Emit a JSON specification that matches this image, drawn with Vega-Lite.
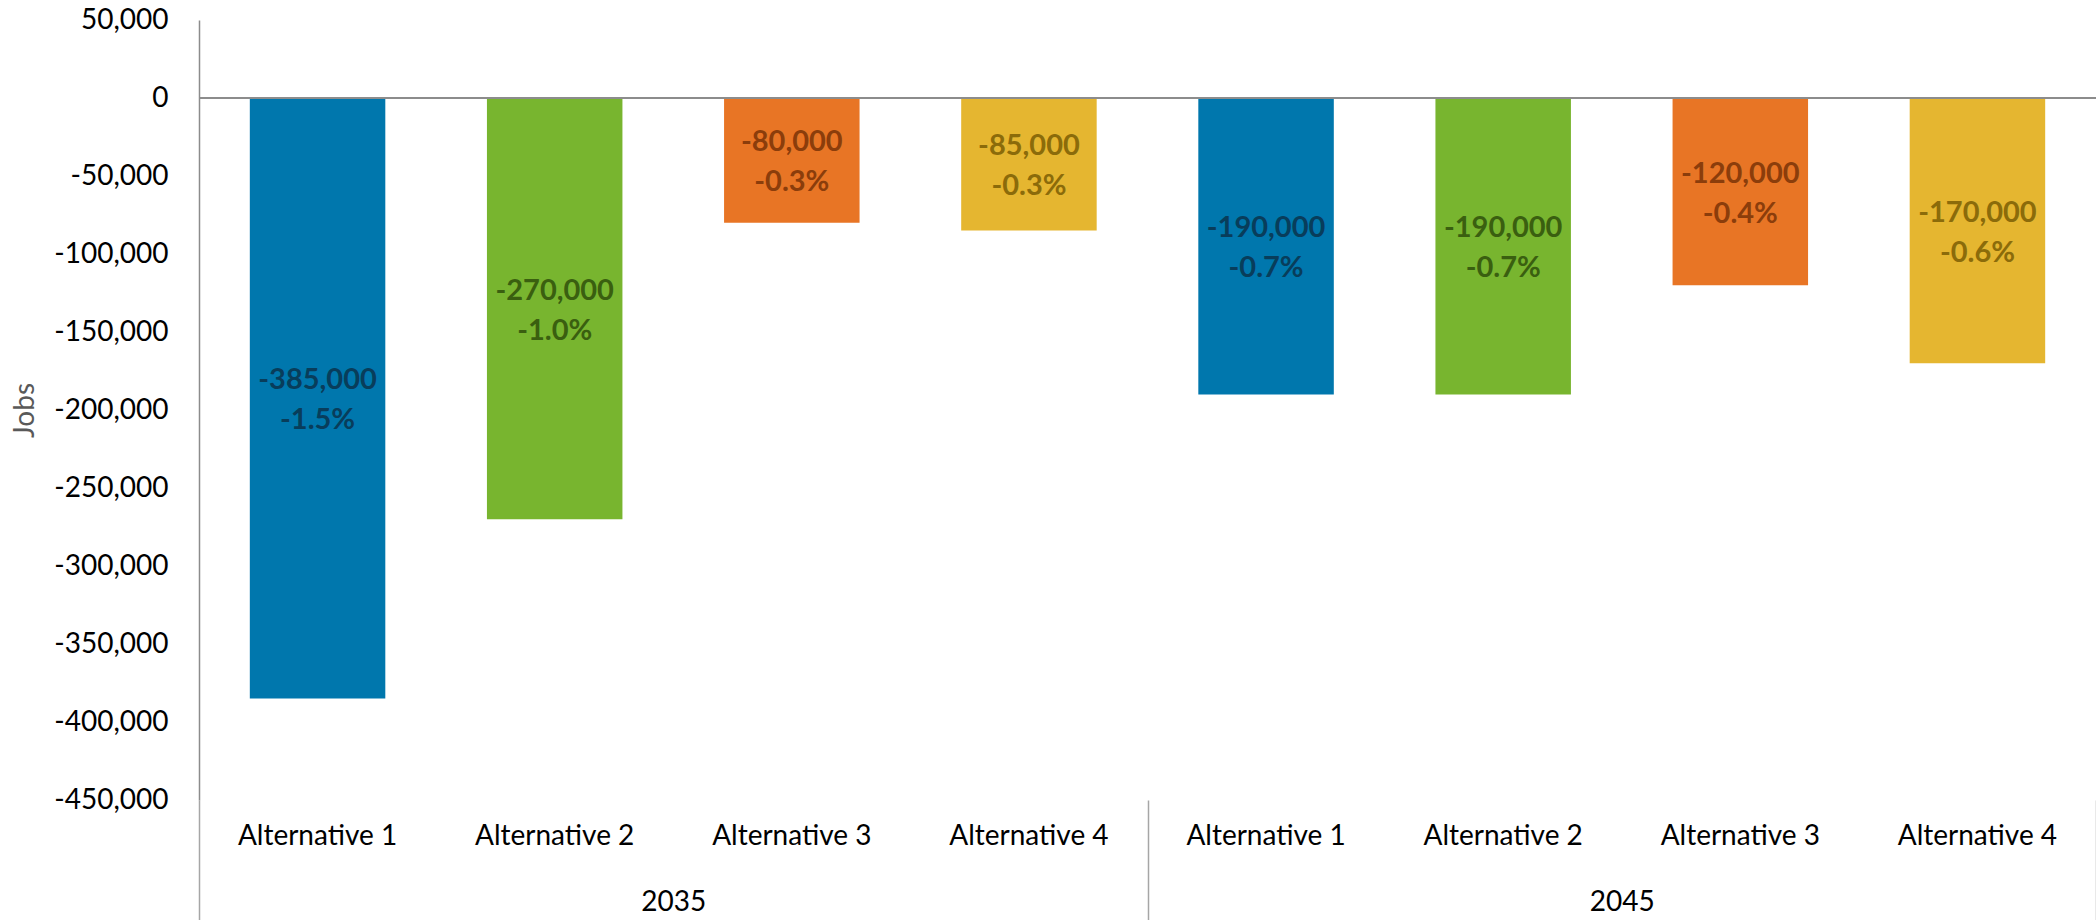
{
  "$schema": "https://vega.github.io/schema/vega-lite/v6.json",
  "width": 1897,
  "height": 780,
  "autosize": {"type": "none"},
  "padding": {"left": 199, "top": 20, "right": 0, "bottom": 120},
  "background": "white",
  "config": {"view": {"stroke": null}, "font": "Lato"},
  "data": {
    "values": [
      {"year": "2035", "alt": "Alternative 1", "value": -385000, "pct": -0.015},
      {"year": "2035", "alt": "Alternative 2", "value": -270000, "pct": -0.010},
      {"year": "2035", "alt": "Alternative 3", "value": -80000, "pct": -0.003},
      {"year": "2035", "alt": "Alternative 4", "value": -85000, "pct": -0.003},
      {"year": "2045", "alt": "Alternative 1", "value": -190000, "pct": -0.007},
      {"year": "2045", "alt": "Alternative 2", "value": -190000, "pct": -0.007},
      {"year": "2045", "alt": "Alternative 3", "value": -120000, "pct": -0.004},
      {"year": "2045", "alt": "Alternative 4", "value": -170000, "pct": -0.006}
    ]
  },
  "transform": [
    {"calculate": "datum.year + ' ' + datum.alt", "as": "key"},
    {"calculate": "datum.value / 2", "as": "mid"},
    {"calculate": "replace(format(datum.value, ','), '\u2212', '-') + '\\n' + replace(format(datum.pct, '.1%'), '\u2212', '-')", "as": "label"}
  ],
  "layer": [
    {
      "layer": [
        {
          "mark": {"type": "bar"},
          "encoding": {
            "x": {
              "field": "key", "type": "nominal", "sort": null,
              "scale": {"paddingInner": 0.4286, "paddingOuter": 0.2143},
              "axis": {
                "orient": "bottom", "title": null, "labelExpr": "slice(datum.label, 5)",
                "labelAngle": 0, "labelFontSize": 28, "labelColor": "#000000",
                "ticks": false, "domain": false, "labelPadding": 22
              }
            },
            "y": {
              "field": "value", "type": "quantitative",
              "scale": {"domain": [-450000, 50000], "nice": false},
              "axis": {
                "values": [50000, 0, -50000, -100000, -150000, -200000, -250000, -300000, -350000, -400000, -450000],
                "labelExpr": "replace(format(datum.value, ','), '\u2212', '-')",
                "labelFontSize": 28, "labelColor": "#000000", "labelPadding": 31,
                "labelOverlap": false, "ticks": false, "grid": false,
                "domainColor": "#8C8C8C", "domainWidth": 1.5,
                "title": "Jobs", "titleFontSize": 28, "titleFontWeight": "normal",
                "titleColor": "#595959", "titlePadding": 14
              }
            },
            "color": {
              "field": "alt", "type": "nominal",
              "scale": {"domain": ["Alternative 1", "Alternative 2", "Alternative 3", "Alternative 4"],
                        "range": ["#0077AD", "#78B52F", "#E87525", "#E5B630"]},
              "legend": null
            }
          }
        },
        {
          "mark": {"type": "text", "fontWeight": "bold", "fontSize": 29, "lineBreak": "\n", "lineHeight": 40, "baseline": "middle", "align": "center", "dy": -18},
          "encoding": {
            "x": {"field": "key", "type": "nominal", "sort": null},
            "y": {
              "field": "mid", "type": "quantitative",
              "axis": {
                "values": [50000, 0, -50000, -100000, -150000, -200000, -250000, -300000, -350000, -400000, -450000],
                "labelExpr": "replace(format(datum.value, ','), '\u2212', '-')",
                "labelFontSize": 28, "labelColor": "#000000", "labelPadding": 31,
                "labelOverlap": false, "ticks": false, "grid": false,
                "domainColor": "#8C8C8C", "domainWidth": 1.5,
                "title": "Jobs", "titleFontSize": 28, "titleFontWeight": "normal",
                "titleColor": "#595959", "titlePadding": 14
              }
            },
            "text": {"field": "label"},
            "color": {
              "field": "alt", "type": "nominal",
              "scale": {"domain": ["Alternative 1", "Alternative 2", "Alternative 3", "Alternative 4"],
                        "range": ["#083D5B", "#3A5F10", "#8B3D0B", "#8B6B0A"]},
              "legend": null
            }
          }
        }
      ],
      "resolve": {"scale": {"color": "independent"}}
    },
    {
      "mark": {"type": "rule", "color": "#8C8C8C", "strokeWidth": 1.5},
      "encoding": {
        "y": {
          "datum": 0, "type": "quantitative",
          "axis": {
            "values": [50000, 0, -50000, -100000, -150000, -200000, -250000, -300000, -350000, -400000, -450000],
            "labelExpr": "replace(format(datum.value, ','), '\u2212', '-')",
            "labelFontSize": 28, "labelColor": "#000000", "labelPadding": 31,
            "labelOverlap": false, "ticks": false, "grid": false,
            "domainColor": "#8C8C8C", "domainWidth": 1.5,
            "title": "Jobs", "titleFontSize": 28, "titleFontWeight": "normal",
            "titleColor": "#595959", "titlePadding": 14
          }
        }
      }
    },
    {
      "mark": {"type": "tick", "opacity": 0},
      "encoding": {
        "x": {
          "field": "year", "type": "nominal", "sort": null,
          "scale": {"paddingInner": 0, "paddingOuter": 0},
          "axis": {
            "orient": "bottom", "title": null, "domain": false, "ticks": true,
            "tickBand": "extent", "tickSize": 120, "tickColor": "#A6A6A6", "tickWidth": 1.5,
            "labelAngle": 0, "labelFontSize": 28, "labelColor": "#000000", "labelPadding": -32
          }
        }
      }
    }
  ],
  "resolve": {"scale": {"x": "independent"}, "axis": {"x": "independent"}}
}
